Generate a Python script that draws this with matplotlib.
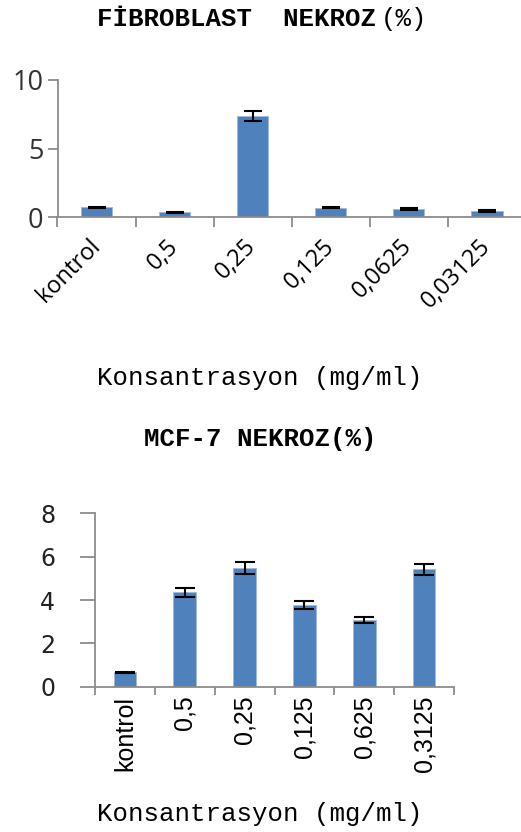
import matplotlib.pyplot as plt

W, H = 521, 832
PT = 0.72  # points per pixel at dpi 100

# --- data -----------------------------------------------------------
fib_labels = ['kontrol', '0,5', '0,25', '0,125', '0,0625', '0,03125']
fib_values = [0.70, 0.33, 7.37, 0.68, 0.58, 0.46]
fib_errors = [0.05, 0.03, 0.38, 0.04, 0.06, 0.06]

mcf_labels = ['kontrol', '0,5', '0,25', '0,125', '0,625', '0,3125']
mcf_values = [0.66, 4.36, 5.46, 3.77, 3.08, 5.42]
mcf_errors = [0.03, 0.20, 0.28, 0.20, 0.15, 0.26]

bar_color = '#4F81BD'
spine_color = '#8C8C8C'
mono = 'Liberation Mono'


def px(x, y):
    return x / W, 1 - y / H


def box(left, top, right, bottom):
    return [left / W, 1 - bottom / H, (right - left) / W, (bottom - top) / H]


fig = plt.figure(figsize=(W / 100, H / 100), dpi=100)
fig.patch.set_facecolor('white')


def style_axes(ax, n, ymax, ylen, xlen):
    for s in ['top', 'right']:
        ax.spines[s].set_visible(False)
    for s in ['left', 'bottom']:
        ax.spines[s].set_color(spine_color)
        ax.spines[s].set_linewidth(1.3)
    ax.set_xlim(-0.5, n - 0.5)
    ax.set_ylim(0, ymax)
    ax.set_xticks([i - 0.5 for i in range(n + 1)])
    ax.set_xticklabels([])
    ax.tick_params(axis='x', which='major', length=xlen * PT, width=1.3,
                   color=spine_color, direction='out')
    ax.tick_params(axis='y', length=ylen * PT, width=1.3, color=spine_color,
                   direction='out')


# --- top chart: fibroblast -----------------------------------------
ax1 = fig.add_axes(box(57.5, 80, 526, 217))
x1 = range(len(fib_values))
ax1.bar(x1, fib_values, width=0.4, color=bar_color, edgecolor='#9DB8DA',
        linewidth=0.6, zorder=2)
ax1.errorbar(x1, fib_values, yerr=fib_errors, fmt='none', ecolor='black',
             elinewidth=1.5, capsize=6.5, capthick=1.5, zorder=3)
style_axes(ax1, len(fib_values), 10, 10, 10)
ax1.set_yticks([0, 5, 10])
ax1.set_yticklabels(['0', '5', '10'], fontsize=19.5, family='Open Sans',
                    color='#333333')
ax1.tick_params(axis='y', pad=4 * PT)
ax1.set_xticks(list(x1), minor=True)
ax1.set_xticklabels(fib_labels, minor=True, rotation=45, ha='right',
                    va='center', rotation_mode='anchor', fontsize=17,
                    family='Open Sans', color='black')
ax1.tick_params(axis='x', which='minor', length=0, pad=26 * PT)

# --- bottom chart: MCF-7 -------------------------------------------
ax2 = fig.add_axes(box(95, 513.3, 454, 686.7))
x2 = range(len(mcf_values))
ax2.bar(x2, mcf_values, width=0.38, color=bar_color, edgecolor='#9DB8DA',
        linewidth=0.6, zorder=2)
ax2.errorbar(x2, mcf_values, yerr=mcf_errors, fmt='none', ecolor='black',
             elinewidth=1.5, capsize=7.5, capthick=1.5, zorder=3)
style_axes(ax2, len(mcf_values), 8, 15, 8)
ax2.set_yticks([0, 2, 4, 6, 8])
ax2.set_yticklabels(['0', '2', '4', '6', '8'], fontsize=17,
                    family='DejaVu Sans', color='#222222')
ax2.tick_params(axis='y', pad=25 * PT)
ax2.set_xticks(list(x2), minor=True)
ax2.set_xticklabels(mcf_labels, minor=True, rotation=90, ha='center',
                    va='top', fontsize=18, family='Liberation Sans',
                    color='black')
ax2.tick_params(axis='x', which='minor', length=0, pad=9 * PT)

# --- titles and axis labels ----------------------------------------
fig.text(*px(97, 19), 'FİBROBLAST  NEKROZ', family=mono, weight='bold',
         fontsize=18.5, ha='left', va='center')
fig.text(*px(427, 19), '(%)', family=mono, fontsize=18.5, ha='right',
         va='center')
fig.text(*px(260, 378), 'Konsantrasyon (mg/ml)', family=mono, fontsize=18.5,
         ha='center', va='center')
fig.text(*px(260.5, 439), 'MCF-7 NEKROZ(%)', family=mono, weight='bold',
         fontsize=18.5, ha='center', va='center')
fig.text(*px(260, 814), 'Konsantrasyon (mg/ml)', family=mono, fontsize=18.5,
         ha='center', va='center')

fig.savefig('out.png', dpi=100)
